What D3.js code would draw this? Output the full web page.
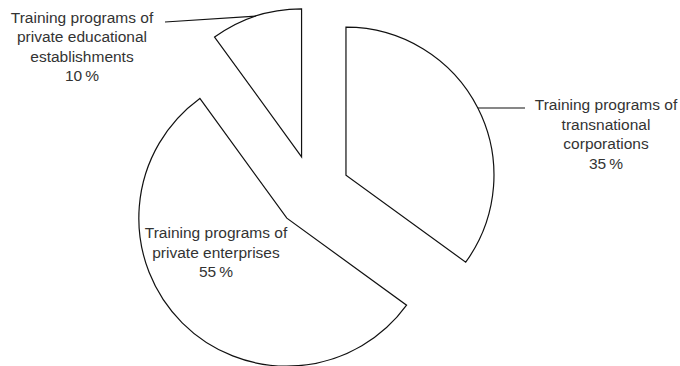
<!DOCTYPE html>
<html>
<head>
<meta charset="utf-8">
<script src="https://cdn.jsdelivr.net/npm/d3@7"></script>
<style>
  body { margin: 0; background: #fff; }
  svg text { font-family: "Liberation Sans", Arial, sans-serif; fill: #333; }
</style>
</head>
<body>
<svg id="chart" width="680" height="366"></svg>
<script>
// data
const categories = [
    ["Training programs of", "transnational", "corporations"],
    ["Training programs of", "private enterprises"],
    ["Training programs of", "private educational", "establishments"]
];
const shares = [35, 55, 10];

// layout
const cx = 313, cy = 192, radius = 148, explode = 37;
const fontSize = 15.5, lineH = 19.6;

const svg = d3.select("#chart");
const pie = d3.pie().sort(null).value(d => d)(shares);
const arc = d3.arc().innerRadius(0).outerRadius(radius);

const offset = (d, r) => {
    let a = (d.startAngle + d.endAngle) / 2;
    return [r * Math.sin(a), -r * Math.cos(a)];
};

const g = svg.append("g").attr("transform", `translate(${cx},${cy})`);

g.selectAll("path.slice")
    .data(pie)
    .join("path")
    .attr("class", "slice")
    .attr("d", arc)
    .attr("transform", d => `translate(${offset(d, explode)})`)
    .attr("fill", "#fff")
    .attr("stroke", "#111")
    .attr("stroke-width", 1.2)
    .attr("stroke-linejoin", "miter");

// label placement: text center x, first baseline y, leader end (null = label inside slice)
const labelPos = [
    {x: 606, y: 110, lead: [525, 108]},
    {x: 216, y: 238, lead: null},
    {x: 82, y: 22.5, lead: [165, 22]}
];

pie.forEach((d, i) => {
    let p = labelPos[i];
    if(p.lead){
        let [ox, oy] = offset(d, explode);
        let [ax, ay] = offset(d, radius);
        svg.append("line")
            .attr("x1", cx + ox + ax).attr("y1", cy + oy + ay)
            .attr("x2", p.lead[0]).attr("y2", p.lead[1])
            .attr("stroke", "#111").attr("stroke-width", 1.2);
    }
    let lines = categories[i].concat([`${d.data}\u2009%`]);
    let t = svg.append("text")
        .attr("text-anchor", "middle")
        .attr("font-size", fontSize);
    lines.forEach((s, j) => {
        t.append("tspan").attr("x", p.x).attr("y", p.y + j * lineH).text(s);
    });
});
</script>
</body>
</html>
